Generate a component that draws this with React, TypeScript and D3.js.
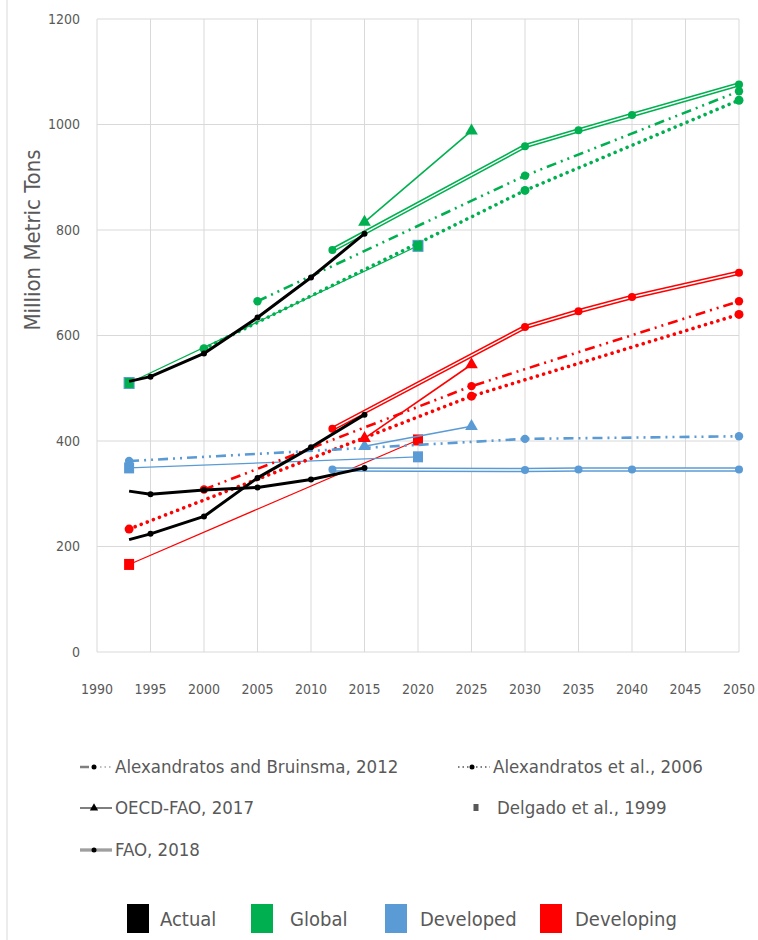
import React from "react";
import * as d3 from "d3";

// ---------- DATA ----------
const xTicks = [1990, 1995, 2000, 2005, 2010, 2015, 2020, 2025, 2030, 2035, 2040, 2045, 2050];
const yTicks = [0, 200, 400, 600, 800, 1000, 1200];

// Actual (black)
const actualGlobalYears = [1993, 1995, 2000, 2005, 2010, 2015];
const actualGlobal = [513, 522, 566, 634, 710, 793];
const actualDevelopedYears = [1993, 1995, 2000, 2005, 2010, 2015];
const actualDeveloped = [305, 299, 307, 312, 327, 349];
const actualDevelopingYears = [1993, 1995, 2000, 2005, 2010, 2015];
const actualDeveloping = [213, 224, 257, 330, 388, 450];

// Alexandratos and Bruinsma, 2012
const abGlobalYears = [2005, 2030, 2050];
const abGlobal = [665, 903, 1063];
const abDevelopedYears = [1993, 2030, 2050];
const abDeveloped = [362, 404, 409];
const abDevelopingYears = [2000, 2025, 2050];
const abDeveloping = [308, 504, 665];

// Alexandratos et al., 2006
const a06GlobalYears = [2000, 2030, 2050];
const a06Global = [575, 875, 1046];
const a06DevelopingYears = [1993, 2025, 2050];
const a06Developing = [233, 485, 640];

// OECD-FAO, 2017
const oecdGlobalYears = [2015, 2025];
const oecdGlobal = [815, 988];
const oecdDevelopedYears = [2015, 2025];
const oecdDeveloped = [390, 428];
const oecdDevelopingYears = [2015, 2025];
const oecdDeveloping = [405, 545];

// Delgado et al., 1999
const delgadoYears = [1993, 2020];
const delgadoGlobal = [510, 770];
const delgadoDeveloped = [349, 370];
const delgadoDeveloping = [166, 402];

// FAO, 2018
const faoYears = [2012, 2030, 2035, 2040, 2050];
const faoGlobal = [762, 959, 989, 1018, 1076];
const faoDeveloped = [346, 345, 346, 346, 346];
const faoDeveloping = [423, 616, 646, 673, 719];

const sourceLabels = [
  "Alexandratos and Bruinsma, 2012",
  "Alexandratos et al., 2006",
  "OECD-FAO, 2017",
  "Delgado et al., 1999",
  "FAO, 2018",
];
const groupLabels = ["Actual", "Global", "Developed", "Developing"];

// ---------- STYLE ----------
const BLACK = "#000000";
const GREEN = "#00B050";
const BLUE = "#5B9BD5";
const RED = "#FF0000";
const groupColors = [BLACK, GREEN, BLUE, RED];
const TEXT = "#595959";
const GRID = "#D9D9D9";
const FONT = "'DejaVu Sans Condensed', 'Liberation Sans Narrow', 'Roboto Condensed', 'DejaVu Sans', sans-serif";

const x = d3.scaleLinear().domain([1990, 2050]).range([97, 739]);
const y = d3.scaleLinear().domain([0, 1200]).range([652, 19]);

type Pt = [number, number];
const zip = (ys: number[], vs: number[]): Pt[] => ys.map((yr, i) => [yr, vs[i]]);
const line = d3
  .line<Pt>()
  .x((d) => x(d[0]))
  .y((d) => y(d[1]));

const tri = d3.symbol().type(d3.symbolTriangle).size(70)();

function Circles({ pts, color, r = 4 }: { pts: Pt[]; color: string; r?: number }) {
  return (
    <g>
      {pts.map((d, i) => (
        <circle key={i} cx={x(d[0])} cy={y(d[1])} r={r} fill={color} />
      ))}
    </g>
  );
}

function Double({ pts, color }: { pts: Pt[]; color: string }) {
  const d = line(pts) || "";
  return (
    <g>
      <path d={d} fill="none" stroke={color} strokeWidth={4.5} />
      <path d={d} fill="none" stroke="#ffffff" strokeWidth={1.4} />
      <Circles pts={pts} color={color} r={4} />
    </g>
  );
}

function DashDotDot({ pts, color }: { pts: Pt[]; color: string }) {
  return (
    <g>
      <path d={line(pts) || ""} fill="none" stroke={color} strokeWidth={2.6} strokeDasharray="10 5 2 5 2 5" />
      <Circles pts={pts} color={color} r={4.2} />
    </g>
  );
}

function Dotted({ pts, color }: { pts: Pt[]; color: string }) {
  return (
    <g>
      <path d={line(pts) || ""} fill="none" stroke={color} strokeWidth={3.6} strokeDasharray="0.01 6.5" strokeLinecap="round" />
      <Circles pts={pts} color={color} r={4.5} />
    </g>
  );
}

function Solid({ pts, color }: { pts: Pt[]; color: string }) {
  return (
    <g>
      <path d={line(pts) || ""} fill="none" stroke={color} strokeWidth={1.6} />
      {pts.map((d, i) => (
        <path key={i} d={tri || ""} transform={`translate(${x(d[0])},${y(d[1])})`} fill={color} />
      ))}
    </g>
  );
}

function Squares({ pts, color }: { pts: Pt[]; color: string }) {
  return (
    <g>
      <path d={line(pts) || ""} fill="none" stroke={color} strokeWidth={1.2} />
      {pts.map((d, i) => (
        <rect key={i} x={x(d[0]) - 5} y={y(d[1]) - 5.5} width={10} height={11} fill={color} stroke={color === GREEN ? BLUE : "none"} strokeWidth={1} />
      ))}
    </g>
  );
}

function Actual({ pts }: { pts: Pt[] }) {
  return (
    <g>
      <path d={line(pts) || ""} fill="none" stroke={BLACK} strokeWidth={3} strokeLinejoin="round" />
      <Circles pts={pts.slice(1)} color={BLACK} r={3} />
    </g>
  );
}

export default function App() {
  const plotLeft = x(1990);
  const plotRight = x(2050);
  const plotTop = y(1200);
  const plotBottom = y(0);

  const legendRows = [
    { lx: 80, ly: 767, idx: 0, kind: "dashdot" },
    { lx: 458, ly: 767, idx: 1, kind: "dotted" },
    { lx: 80, ly: 808, idx: 2, kind: "solid" },
    { lx: 462, ly: 808, idx: 3, kind: "square" },
    { lx: 80, ly: 850, idx: 4, kind: "double" },
  ];

  const groupLegendX = [127, 251, 385, 540];
  const groupTextX = [160, 290, 420, 575];

  return (
    <svg
      width={758}
      height={940}
      style={{ position: "absolute", left: 0, top: 0, background: "#fff" }}
      fontFamily={FONT}
    >
      <rect x={0} y={0} width={758} height={940} fill="#fff" />
      <line x1={7} x2={7} y1={0} y2={940} stroke={GRID} strokeWidth={1} />

      {/* gridlines */}
      {xTicks.map((t) => (
        <line key={"vx" + t} x1={x(t)} x2={x(t)} y1={plotTop} y2={plotBottom} stroke={GRID} strokeWidth={1} />
      ))}
      {yTicks.map((t) => (
        <line key={"hy" + t} x1={plotLeft} x2={plotRight} y1={y(t)} y2={y(t)} stroke={GRID} strokeWidth={1} />
      ))}

      {/* tick labels */}
      {yTicks.map((t) => (
        <text key={"yl" + t} x={80} y={y(t)} dy="0.35em" textAnchor="end" fontSize={14} fill={TEXT}>
          {t}
        </text>
      ))}
      {xTicks.map((t) => (
        <text key={"xl" + t} x={x(t)} y={689} dy="0.35em" textAnchor="middle" fontSize={14} fill={TEXT}>
          {t}
        </text>
      ))}
      <text
        transform={`translate(32,240) rotate(-90)`}
        textAnchor="middle"
        fontSize={22}
        fill={TEXT}
        dy="0.35em"
      >
        Million Metric Tons
      </text>

      {/* Delgado (thin lines + squares) */}
      <Squares pts={zip(delgadoYears, delgadoDeveloping)} color={RED} />
      <Squares pts={zip(delgadoYears, delgadoDeveloped)} color={BLUE} />
      <Squares pts={zip(delgadoYears, delgadoGlobal)} color={GREEN} />

      {/* Alexandratos 2006 */}
      <Dotted pts={zip(a06DevelopingYears, a06Developing)} color={RED} />
      <Dotted pts={zip(a06GlobalYears, a06Global)} color={GREEN} />

      {/* Alexandratos & Bruinsma 2012 */}
      <DashDotDot pts={zip(abDevelopedYears, abDeveloped)} color={BLUE} />
      <DashDotDot pts={zip(abDevelopingYears, abDeveloping)} color={RED} />
      <DashDotDot pts={zip(abGlobalYears, abGlobal)} color={GREEN} />

      {/* OECD-FAO 2017 */}
      <Solid pts={zip(oecdDevelopedYears, oecdDeveloped)} color={BLUE} />
      <Solid pts={zip(oecdDevelopingYears, oecdDeveloping)} color={RED} />
      <Solid pts={zip(oecdGlobalYears, oecdGlobal)} color={GREEN} />

      {/* FAO 2018 */}
      <Double pts={zip(faoYears, faoDeveloped)} color={BLUE} />
      <Double pts={zip(faoYears, faoDeveloping)} color={RED} />
      <Double pts={zip(faoYears, faoGlobal)} color={GREEN} />

      {/* Actual */}
      <Actual pts={zip(actualDevelopedYears, actualDeveloped)} />
      <Actual pts={zip(actualDevelopingYears, actualDeveloping)} />
      <Actual pts={zip(actualGlobalYears, actualGlobal)} />

      {/* source legend */}
      {legendRows.map((r) => {
        const mx = r.lx + 14;
        let sample: React.ReactNode = null;
        if (r.kind === "dashdot") {
          sample = (
            <g>
              <line x1={r.lx} x2={r.lx + 9} y1={r.ly} y2={r.ly} stroke="#7F7F7F" strokeWidth={2.5} />
              <line x1={r.lx + 20} x2={r.lx + 32} y1={r.ly} y2={r.ly} stroke="#A6A6A6" strokeWidth={1.5} strokeDasharray="1.5 3" />
              <circle cx={mx} cy={r.ly} r={2.5} fill="#000" />
            </g>
          );
        } else if (r.kind === "dotted") {
          sample = (
            <g>
              <line x1={r.lx} x2={r.lx + 32} y1={r.ly} y2={r.ly} stroke="#7F7F7F" strokeWidth={1.8} strokeDasharray="1.5 3" />
              <circle cx={mx} cy={r.ly} r={2.5} fill="#000" />
            </g>
          );
        } else if (r.kind === "solid") {
          sample = (
            <g>
              <line x1={r.lx} x2={r.lx + 32} y1={r.ly} y2={r.ly} stroke="#7F7F7F" strokeWidth={2} />
              <path d={d3.symbol().type(d3.symbolTriangle).size(30)() || ""} transform={`translate(${mx},${r.ly})`} fill="#000" />
            </g>
          );
        } else if (r.kind === "square") {
          sample = <rect x={mx - 2.5} y={r.ly - 4} width={5} height={7} fill="#595959" />;
        } else {
          sample = (
            <g>
              <line x1={r.lx} x2={r.lx + 32} y1={r.ly} y2={r.ly} stroke="#7F7F7F" strokeWidth={3} />
              <line x1={r.lx} x2={r.lx + 32} y1={r.ly} y2={r.ly} stroke="#D0D0D0" strokeWidth={0.8} />
              <circle cx={mx} cy={r.ly} r={2.5} fill="#000" />
            </g>
          );
        }
        return (
          <g key={r.idx}>
            {sample}
            <text x={r.lx + 35} y={r.ly} dy="0.35em" fontSize={18.5} fill={TEXT}>
              {sourceLabels[r.idx]}
            </text>
          </g>
        );
      })}

      {/* group legend */}
      {groupLabels.map((g, i) => (
        <g key={g}>
          <rect x={groupLegendX[i]} y={904} width={22} height={29} fill={groupColors[i]} />
          <text x={groupTextX[i]} y={919} dy="0.35em" fontSize={20} fill={TEXT}>
            {g}
          </text>
        </g>
      ))}
    </svg>
  );
}
